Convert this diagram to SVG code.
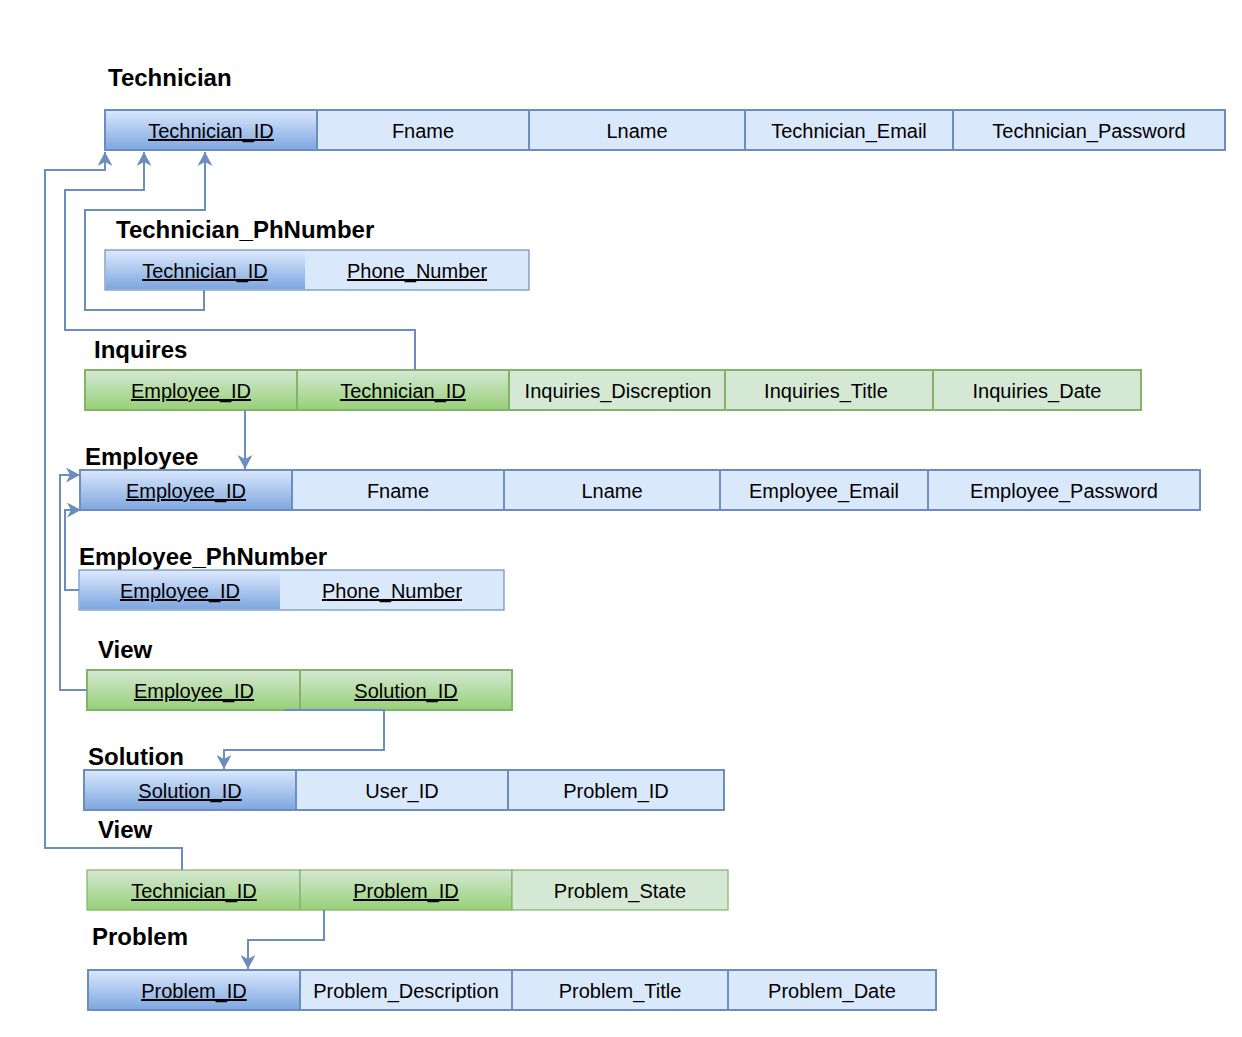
<svg xmlns="http://www.w3.org/2000/svg" width="1242" height="1037" viewBox="0 0 1242 1037">
<defs>
<linearGradient id="gb" x1="0" y1="0" x2="0" y2="1"><stop offset="0" stop-color="#dae8fc"/><stop offset="1" stop-color="#7ea6e0"/></linearGradient>
<linearGradient id="gg" x1="0" y1="0" x2="0" y2="1"><stop offset="0" stop-color="#d5e8d4"/><stop offset="1" stop-color="#97d077"/></linearGradient>
<marker id="arr" markerUnits="userSpaceOnUse" markerWidth="14" markerHeight="15" viewBox="0 0 14 15" refX="14" refY="7.5" orient="auto"><path d="M0,0 L14,7.5 L0,15 L4,7.5 Z" fill="#6c8ebf"/></marker>
</defs>
<style>
.bk{fill:url(#gb);stroke:#6c8ebf;stroke-width:2}
.bc{fill:#dae8fc;stroke:#6c8ebf;stroke-width:2}
.gk{fill:url(#gg);stroke:#82b366;stroke-width:2}
.gc{fill:#d5e8d4;stroke:#82b366;stroke-width:2}
.thin{stroke-width:1.2}
text{font-family:"Liberation Sans",Arial,Helvetica,sans-serif;fill:#000}
.t{font-size:20px;text-anchor:middle}
.u{text-decoration:underline}
.h{font-size:24px;font-weight:bold}
.c{fill:none;stroke:#6c8ebf;stroke-width:2}
</style>
<rect width="1242" height="1037" fill="#fff"/>

<g id="technician">
<text class="h" x="108" y="86">Technician</text>
<rect class="bk" x="105" y="110" width="212" height="40"/>
<rect class="bc" x="317" y="110" width="212" height="40"/>
<rect class="bc" x="529" y="110" width="216" height="40"/>
<rect class="bc" x="745" y="110" width="208" height="40"/>
<rect class="bc" x="953" y="110" width="272" height="40"/>
<text class="t u" x="211" y="138">Technician_ID</text>
<text class="t" x="423" y="138">Fname</text>
<text class="t" x="637" y="138">Lname</text>
<text class="t" x="849" y="138">Technician_Email</text>
<text class="t" x="1089" y="138">Technician_Password</text>
</g>

<g id="technician_phnumber">
<text class="h" x="116" y="238">Technician_PhNumber</text>
<rect class="bc thin" x="105" y="250" width="424" height="40"/>
<rect x="106" y="251" width="199" height="38" fill="url(#gb)"/>
<text class="t u" x="205" y="278">Technician_ID</text>
<text class="t u" x="417" y="278">Phone_Number</text>
</g>

<g id="inquires">
<text class="h" x="94" y="358">Inquires</text>
<rect class="gk" x="85" y="370" width="212" height="40"/>
<rect class="gk" x="297" y="370" width="212" height="40"/>
<rect class="gc" x="509" y="370" width="216" height="40"/>
<rect class="gc" x="725" y="370" width="208" height="40"/>
<rect class="gc" x="933" y="370" width="208" height="40"/>
<text class="t u" x="191" y="398">Employee_ID</text>
<text class="t u" x="403" y="398">Technician_ID</text>
<text class="t" x="618" y="398">Inquiries_Discreption</text>
<text class="t" x="826" y="398">Inquiries_Title</text>
<text class="t" x="1037" y="398">Inquiries_Date</text>
</g>

<g id="employee">
<text class="h" x="85" y="465">Employee</text>
<rect class="bk" x="80" y="470" width="212" height="40"/>
<rect class="bc" x="292" y="470" width="212" height="40"/>
<rect class="bc" x="504" y="470" width="216" height="40"/>
<rect class="bc" x="720" y="470" width="208" height="40"/>
<rect class="bc" x="928" y="470" width="272" height="40"/>
<text class="t u" x="186" y="498">Employee_ID</text>
<text class="t" x="398" y="498">Fname</text>
<text class="t" x="612" y="498">Lname</text>
<text class="t" x="824" y="498">Employee_Email</text>
<text class="t" x="1064" y="498">Employee_Password</text>
</g>

<g id="employee_phnumber">
<text class="h" x="79" y="565">Employee_PhNumber</text>
<rect class="bc thin" x="79" y="570" width="425" height="40"/>
<rect x="80" y="571" width="200" height="38" fill="url(#gb)"/>
<text class="t u" x="180" y="598">Employee_ID</text>
<text class="t u" x="392" y="598">Phone_Number</text>
</g>

<g id="view1">
<text class="h" x="98" y="658">View</text>
<rect class="gk" x="87" y="670" width="213" height="40"/>
<rect class="gk" x="300" y="670" width="212" height="40"/>
<text class="t u" x="194" y="698">Employee_ID</text>
<text class="t u" x="406" y="698">Solution_ID</text>
</g>

<g id="solution">
<text class="h" x="88" y="765">Solution</text>
<rect class="bk" x="84" y="770" width="212" height="40"/>
<rect class="bc" x="296" y="770" width="212" height="40"/>
<rect class="bc" x="508" y="770" width="216" height="40"/>
<text class="t u" x="190" y="798">Solution_ID</text>
<text class="t" x="402" y="798">User_ID</text>
<text class="t" x="616" y="798">Problem_ID</text>
</g>

<g id="view2">
<text class="h" x="98" y="838">View</text>
<rect class="gk thin" x="87" y="870" width="213" height="40"/>
<rect class="gk thin" x="300" y="870" width="212" height="40"/>
<rect class="gc thin" x="512" y="870" width="216" height="40"/>
<text class="t u" x="194" y="898">Technician_ID</text>
<text class="t u" x="406" y="898">Problem_ID</text>
<text class="t" x="620" y="898">Problem_State</text>
</g>

<g id="problem">
<text class="h" x="92" y="945">Problem</text>
<rect class="bk" x="88" y="970" width="212" height="40"/>
<rect class="bc" x="300" y="970" width="212" height="40"/>
<rect class="bc" x="512" y="970" width="216" height="40"/>
<rect class="bc" x="728" y="970" width="208" height="40"/>
<text class="t u" x="194" y="998">Problem_ID</text>
<text class="t" x="406" y="998">Problem_Description</text>
<text class="t" x="620" y="998">Problem_Title</text>
<text class="t" x="832" y="998">Problem_Date</text>
</g>

<g id="connectors">
<path class="c" d="M204,290 V310 H85 V210 H205 V152" marker-end="url(#arr)"/>
<path class="c" d="M415,370 V330 H65 V190 H144 V152" marker-end="url(#arr)"/>
<path class="c" d="M182,870 V848 H45 V170 H105 V152" marker-end="url(#arr)"/>
<path class="c" d="M245,410 V469" marker-end="url(#arr)"/>
<path class="c" d="M79,590 H65 V510 H81" marker-end="url(#arr)"/>
<path class="c" d="M87,690 H60 V475 H80" marker-end="url(#arr)"/>
<path class="c" d="M284,710 H384 V750 H224 V769" marker-end="url(#arr)"/>
<path class="c" d="M324,910 V940 H248 V969" marker-end="url(#arr)"/>
</g>
</svg>
